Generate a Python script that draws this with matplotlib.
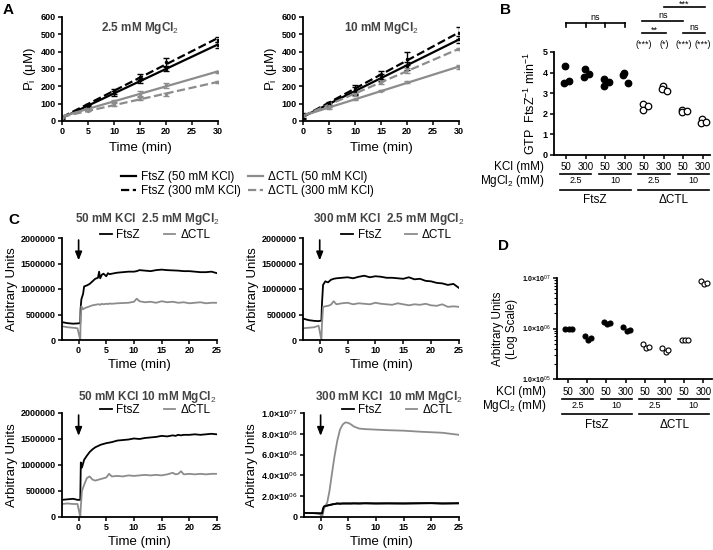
import numpy as np
import matplotlib
matplotlib.use("Agg")
import matplotlib.pyplot as plt
from matplotlib.lines import Line2D
from matplotlib.ticker import FixedLocator, LogLocator, NullFormatter

plt.rcParams['font.family'] = ['Liberation Sans', 'DejaVu Sans']
plt.rcParams['mathtext.fontset'] = 'custom'
plt.rcParams['mathtext.rm'] = 'Liberation Sans'
plt.rcParams['mathtext.bf'] = 'Liberation Sans:bold'

W, H = 713, 550

# ---------------- Panel A data: Pi release (uM) ----------------
a_time = [0, 5, 10, 15, 20, 30]
a_series = ["FtsZ (50 mM KCl)", "FtsZ (300 mM KCl)", "\u0394CTL (50 mM KCl)", "\u0394CTL (300 mM KCl)"]
a_mg25_mean = [
    [18, 85, 160, 235, 300, 440],
    [22, 92, 172, 255, 340, 470],
    [25, 68, 115, 158, 205, 282],
    [20, 60, 95, 128, 155, 225],
]
a_mg25_err = [
    [6, 8, 14, 14, 14, 18],
    [6, 8, 14, 16, 22, 12],
    [4, 5, 8, 14, 12, 5],
    [4, 4, 8, 8, 8, 6],
]
a_mg10_mean = [
    [28, 95, 172, 250, 318, 472],
    [32, 100, 182, 265, 360, 508],
    [30, 75, 125, 175, 225, 310],
    [35, 88, 155, 225, 292, 415],
]
a_mg10_err = [
    [14, 8, 24, 20, 24, 20],
    [14, 10, 24, 22, 36, 36],
    [4, 4, 4, 4, 6, 12],
    [6, 6, 8, 10, 14, 8],
]

# ---------------- Panel B data: GTPase rate ----------------
b_groups = ["50", "300", "50", "300", "50", "300", "50", "300"]
b_rates = [
    [4.30, 3.48, 3.60],
    [4.18, 3.80, 3.95],
    [3.70, 3.36, 3.56],
    [3.98, 3.86, 3.50],
    [2.48, 2.20, 2.40],
    [3.35, 3.20, 3.10],
    [2.20, 2.10, 2.15],
    [1.75, 1.55, 1.62],
]
b_pvals = ["(***)", "(*)", "(***)", "(***)"]

# ---------------- Panel D data: light scattering, log ----------------
d_values = [
    [1.00e6, 0.98e6, 1.00e6],
    [7.2e5, 5.9e5, 6.6e5],
    [1.32e6, 1.25e6, 1.30e6],
    [1.08e6, 9.0e5, 9.2e5],
    [5.0e5, 4.1e5, 4.4e5],
    [4.1e5, 3.4e5, 3.7e5],
    [5.8e5, 5.8e5, 5.8e5],
    [8.8e6, 7.6e6, 8.0e6],
]

# ---------------- Panel C data: time courses ----------------
c1_time = [-3, -2, -1, -0.2, 0.3, 0.35, 0.5, 0.8, 1.0, 1.5, 2.0, 2.5, 3.0, 3.5, 3.7, 3.9, 4.2,
           4.5, 5.0, 5.3, 5.6, 6.0, 7, 8, 9, 10, 10.5, 11, 12, 13, 14, 15, 16, 17, 18, 19,
           20, 21, 22, 23, 24, 25]
c1_ftsz = [350e3, 330e3, 320e3, 325e3, 330e3, 600e3, 800e3, 900e3, 1050e3, 1070e3, 1100e3,
           1150e3, 1200e3, 1220e3, 1340e3, 1210e3, 1280e3, 1300e3, 1250e3, 1310e3, 1290e3,
           1300e3, 1320e3, 1330e3, 1340e3, 1340e3, 1350e3, 1370e3, 1360e3, 1350e3, 1370e3,
           1380e3, 1370e3, 1365e3, 1360e3, 1350e3, 1350e3, 1340e3, 1330e3, 1330e3, 1340e3,
           1310e3]
c1_dctl = [270e3, 250e3, 240e3, 230e3, 0, 300e3, 660e3, 600e3, 620e3, 640e3, 660e3, 680e3,
           690e3, 700e3, 700e3, 690e3, 710e3, 700e3, 710e3, 705e3, 715e3, 710e3, 720e3,
           725e3, 730e3, 750e3, 810e3, 760e3, 740e3, 750e3, 730e3, 760e3, 740e3, 750e3,
           730e3, 740e3, 720e3, 730e3, 740e3, 720e3, 730e3, 730e3]

c2_time = [-3, -2, -1, -0.2, 0.3, 0.4, 0.6, 1.0, 1.5, 2.0, 2.5, 3, 4, 5, 6, 7, 8, 9, 10, 11,
           12, 13, 14, 15, 16, 17, 18, 19, 20, 21, 22, 23, 24, 25]
c2_ftsz = [420e3, 390e3, 375e3, 370e3, 380e3, 700e3, 1080e3, 1150e3, 1130e3, 1180e3, 1200e3,
           1210e3, 1220e3, 1230e3, 1210e3, 1240e3, 1260e3, 1230e3, 1250e3, 1240e3, 1220e3,
           1220e3, 1210e3, 1200e3, 1230e3, 1190e3, 1200e3, 1160e3, 1150e3, 1120e3, 1110e3,
           1080e3, 1100e3, 1020e3]
c2_dctl = [230e3, 240e3, 250e3, 280e3, 0, 300e3, 650e3, 660e3, 670e3, 690e3, 760e3, 700e3,
           720e3, 730e3, 700e3, 720e3, 710e3, 700e3, 730e3, 710e3, 700e3, 690e3, 720e3,
           700e3, 680e3, 700e3, 690e3, 710e3, 680e3, 670e3, 700e3, 650e3, 660e3, 650e3]

c3_time = [-3, -2, -1, -0.2, 0.3, 0.4, 0.6, 1.0, 1.5, 2, 2.5, 3, 4, 5, 5.5, 6, 7, 8, 9, 10, 11,
           12, 13, 14, 15, 16, 17, 17.5, 18, 18.5, 19, 20, 21, 22, 23, 24, 25]
c3_ftsz = [330e3, 340e3, 350e3, 330e3, 330e3, 1050e3, 950e3, 1100e3, 1180e3, 1250e3, 1300e3,
           1340e3, 1390e3, 1420e3, 1430e3, 1440e3, 1470e3, 1480e3, 1490e3, 1510e3, 1500e3,
           1520e3, 1530e3, 1540e3, 1560e3, 1550e3, 1570e3, 1560e3, 1580e3, 1570e3, 1580e3,
           1580e3, 1590e3, 1580e3, 1590e3, 1600e3, 1590e3]
c3_dctl = [250e3, 260e3, 250e3, 250e3, 0, 200e3, 500e3, 620e3, 750e3, 780e3, 720e3, 700e3,
           730e3, 760e3, 830e3, 780e3, 790e3, 780e3, 800e3, 790e3, 800e3, 810e3, 800e3,
           810e3, 800e3, 820e3, 850e3, 820e3, 830e3, 880e3, 820e3, 830e3, 820e3, 830e3,
           820e3, 830e3, 830e3]

c4_time = [-3, -2, -1, -0.2, 0.3, 0.4, 0.6, 0.8, 1.2, 1.6, 2.0, 2.5, 3.0, 3.5, 4.0, 4.5, 5.0,
           5.5, 6, 7, 8, 10, 12, 15, 18, 20, 22, 25]
c4_ftsz = [400e3, 380e3, 370e3, 350e3, 350e3, 700e3, 1000e3, 1050e3, 1100e3, 1150e3, 1200e3,
           1250e3, 1300e3, 1280e3, 1300e3, 1300e3, 1300e3, 1300e3, 1310e3, 1300e3, 1320e3,
           1300e3, 1310e3, 1300e3, 1320e3, 1330e3, 1300e3, 1320e3]
c4_dctl = [400e3, 380e3, 370e3, 350e3, 0, 300e3, 800e3, 1000e3, 1400e3, 2500e3, 4000e3,
           5800e3, 7300e3, 8400e3, 8900e3, 9100e3, 9050e3, 8900e3, 8700e3, 8500e3, 8450e3,
           8400e3, 8350e3, 8300e3, 8200e3, 8150e3, 8100e3, 7900e3]

GRAY = "#8c8c8c"

fig = plt.figure(figsize=(W / 100, H / 100), dpi=100)


def px_axes(l, t, r, b):
    return fig.add_axes([l / W, 1 - b / H, (r - l) / W, (b - t) / H])


def style(ax, labelsize=6.5):
    for s in ["top", "right"]:
        ax.spines[s].set_visible(False)
    for s in ["left", "bottom"]:
        ax.spines[s].set_linewidth(1.3)
    ax.tick_params(width=1.1, length=3, labelsize=labelsize, pad=1.5)
    for lab in ax.get_xticklabels() + ax.get_yticklabels():
        lab.set_fontweight("bold")


# ---------------- Panel A ----------------
a_styles = [("black", "-"), ("black", "--"), (GRAY, "-"), (GRAY, "--")]
for (l, t, r, b), means, errs, title in [
    ((62, 17, 218, 121), a_mg25_mean, a_mg25_err, "2.5 mM MgCl$_2$"),
    ((303, 17, 459, 121), a_mg10_mean, a_mg10_err, "10 mM MgCl$_2$"),
]:
    ax = px_axes(l, t, r, b)
    x = np.array(a_time)
    for (col, ls), m, e in zip(a_styles, means, errs):
        k, c = np.polyfit(x, m, 1)
        xx = np.array([0, 30])
        ax.plot(xx, k * xx + c, color=col, ls=ls, lw=1.6)
        ax.errorbar(x, m, yerr=e, fmt="o", ms=1.5, color=col, ecolor=col, elinewidth=1.0,
                    capsize=2.5, capthick=1.0)
    ax.set_xlim(0, 30)
    ax.set_ylim(0, 600)
    ax.set_xticks([0, 5, 10, 15, 20, 25, 30])
    ax.set_yticks([0, 100, 200, 300, 400, 500, 600])
    ax.set_xlabel("Time (min)", fontsize=9.5, labelpad=4)
    ax.set_ylabel("P$_\\mathregular{i}$ (\u03bcM)", fontsize=9.5, labelpad=2)
    ax.text(0.5, 0.97, title, transform=ax.transAxes, ha="center", va="top",
            fontsize=8.5, fontweight="bold", color="#444444")
    style(ax)

fig.legend(handles=[Line2D([], [], color=c, ls=s, lw=1.6) for c, s in a_styles],
           labels=a_series, ncol=2, loc="center", bbox_to_anchor=(247 / W, 1 - 184 / H),
           frameon=False, fontsize=8.5, handlelength=1.3, columnspacing=0.6,
           labelspacing=0.15, handletextpad=0.4)

# ---------------- Panel B and D helpers ----------------
jitter = [-0.05, -0.08, 0.18]


def category_rows(ax, rows):
    tr = ax.get_xaxis_transform()
    y_kcl, y_ul1, y_mg, y_ul2, y_prot = rows
    for i, g in enumerate(b_groups):
        ax.text(i, y_kcl, g, transform=tr, ha="center", va="center", fontsize=7)
    ax.text(-1.1, y_kcl, "KCl (mM)", transform=tr, ha="right", va="center", fontsize=8.5)
    ax.text(-1.1, y_mg, "MgCl$_2$ (mM)", transform=tr, ha="right", va="center", fontsize=8.5)
    for p, lab in zip([0, 2, 4, 6], ["2.5", "10", "2.5", "10"]):
        ax.plot([p - 0.3, p + 1.3], [y_ul1, y_ul1], color="black", lw=1.2, transform=tr, clip_on=False)
        ax.text(p + 0.5, y_mg, lab, transform=tr, ha="center", va="center", fontsize=6.5)
    for p, lab in zip([0, 4], ["FtsZ", "\u0394CTL"]):
        ax.plot([p - 0.3, p + 3.3], [y_ul2, y_ul2], color="black", lw=1.2, transform=tr, clip_on=False)
        ax.text(p + 1.5, y_prot, lab, transform=tr, ha="center", va="center", fontsize=8.5)


# ---------------- Panel B ----------------
axb = px_axes(554, 52, 710, 155)
for i, vals in enumerate(b_rates):
    filled = i < 4
    axb.scatter([i + j for j in jitter], vals, s=22,
                facecolors="black" if filled else "white", edgecolors="black", linewidths=0.9,
                zorder=3, clip_on=False)
axb.set_xlim(-0.61, 7.36)
axb.set_ylim(0, 5)
axb.set_yticks([0, 1, 2, 3, 4, 5])
axb.set_xticks(range(8))
axb.set_xticklabels([])
axb.set_ylabel("GTP  FtsZ$^{-1}$ min$^{-1}$", fontsize=9, labelpad=3)
style(axb)
category_rows(axb, [-0.117, -0.184, -0.252, -0.340, -0.437])


def bline(x0, x1, y, txt, ty=0.06, ticks=None):
    axb.plot([x0, x1], [y, y], color="black", lw=1.2, clip_on=False)
    if ticks:
        for tx in ticks:
            axb.plot([tx, tx], [y, y - 0.2], color="black", lw=1.2, clip_on=False)
    axb.text((x0 + x1) / 2, y + ty, txt, ha="center", va="bottom", fontsize=6.5)


bline(0, 3, 6.41, "ns", ticks=[0, 1, 2, 3])
bline(4 - 0.1, 6, 6.50, "ns")
bline(5, 7.1, 7.18, "***", ty=-0.08)
bline(4 - 0.1, 5.1, 5.90, "**", ty=-0.08)
bline(6, 7.1, 5.90, "ns")
for p, s in zip([4, 5, 6, 7], b_pvals):
    axb.text(p, 5.34, s, ha="center", va="center", fontsize=6.5)

# ---------------- Panel D ----------------
axd = px_axes(557, 278, 712, 379)
for i, vals in enumerate(d_values):
    filled = i < 4
    axd.scatter([i + j for j in [-0.12, 0.05, 0.2]], vals, s=13,
                facecolors="black" if filled else "white", edgecolors="black", linewidths=0.8,
                zorder=3, clip_on=False)
axd.set_yscale("log")
axd.set_ylim(1e5, 1e7)
axd.set_xlim(-0.55, 7.45)
axd.set_xticks(range(8))
axd.set_xticklabels([])
axd.yaxis.set_major_locator(FixedLocator([1e5, 1e6, 1e7]))
axd.yaxis.set_minor_locator(LogLocator(base=10, subs=np.arange(2, 10)))
axd.yaxis.set_minor_formatter(NullFormatter())
axd.set_yticklabels(["1.0\u00d710$^{05}$", "1.0\u00d710$^{06}$", "1.0\u00d710$^{07}$"])
axd.set_ylabel("Arbitrary Units\n(Log Scale)", fontsize=8.5, labelpad=3)
style(axd, labelsize=5)
axd.tick_params(which="minor", length=2, width=0.8)
category_rows(axd, [-0.129, -0.198, -0.267, -0.347, -0.455])

# ---------------- Panel C ----------------
c_panels = [
    ((62, 238, 217, 340), c1_time, c1_ftsz, c1_dctl, "50 mM KCl  2.5 mM MgCl$_2$", False, 1.19),
    ((303, 238, 459, 340), c2_time, c2_ftsz, c2_dctl, "300 mM KCl  2.5 mM MgCl$_2$", False, 1.19),
    ((62, 413, 217, 517), c3_time, c3_ftsz, c3_dctl, "50 mM KCl 10 mM MgCl$_2$", False, 1.15),
    ((304, 413, 459, 517), c4_time, c4_ftsz, c4_dctl, "300 mM KCl  10 mM MgCl$_2$", True, 1.15),
]
for (l, t, r, b), tt, f, d, title, big, ty in c_panels:
    ax = px_axes(l, t, r, b)
    ax.plot(tt, f, color="black", lw=1.3, label="FtsZ")
    ax.plot(tt, d, color=GRAY, lw=1.3, label="\u0394CTL")
    if big:
        ax.plot(tt, f, color="black", lw=1.3, zorder=3)
    ax.set_xlim(-3, 25)
    ax.set_xticks([0, 5, 10, 15, 20, 25])
    if big:
        ax.set_ylim(0, 1e7)
        ax.set_yticks([0, 2e6, 4e6, 6e6, 8e6, 1e7])
        ax.set_yticklabels(["0", "2.0\u00d710$^{06}$", "4.0\u00d710$^{06}$", "6.0\u00d710$^{06}$",
                            "8.0\u00d710$^{06}$", "1.0\u00d710$^{07}$"])
        ymax = 1e7
    else:
        ax.set_ylim(0, 2e6)
        ax.set_yticks([0, 5e5, 1e6, 1.5e6, 2e6])
        ax.set_yticklabels(["0", "500000", "1000000", "1500000", "2000000"])
        ymax = 2e6
    ax.annotate("", xy=(0, 0.78 * ymax), xytext=(0, 0.98 * ymax),
                arrowprops=dict(arrowstyle="-|>,head_length=0.5,head_width=0.2", color="black",
                                lw=1.2, shrinkA=0, shrinkB=0))
    ax.set_xlabel("Time (min)", fontsize=9.5, labelpad=3)
    ax.set_ylabel("Arbitrary Units", fontsize=9.5, labelpad=2)
    style(ax)
    ax.legend(ncol=2, loc="center", bbox_to_anchor=(0.6, 1.03), frameon=False, fontsize=8.5,
              handlelength=1.0, columnspacing=2.0, handletextpad=0.4, borderpad=0)
    ax.text(0.55, ty, title, transform=ax.transAxes, ha="center", va="center",
            fontsize=8.5, fontweight="bold", color="#444444")

# ---------------- Panel letters ----------------
for x, y, s in [(3, 10, "A"), (500, 10, "B"), (8, 220, "C"), (498, 246, "D")]:
    fig.text(x / W, 1 - y / H, s, fontsize=11, fontweight="bold", va="center", ha="left")

fig.savefig("out.png", dpi=100)
